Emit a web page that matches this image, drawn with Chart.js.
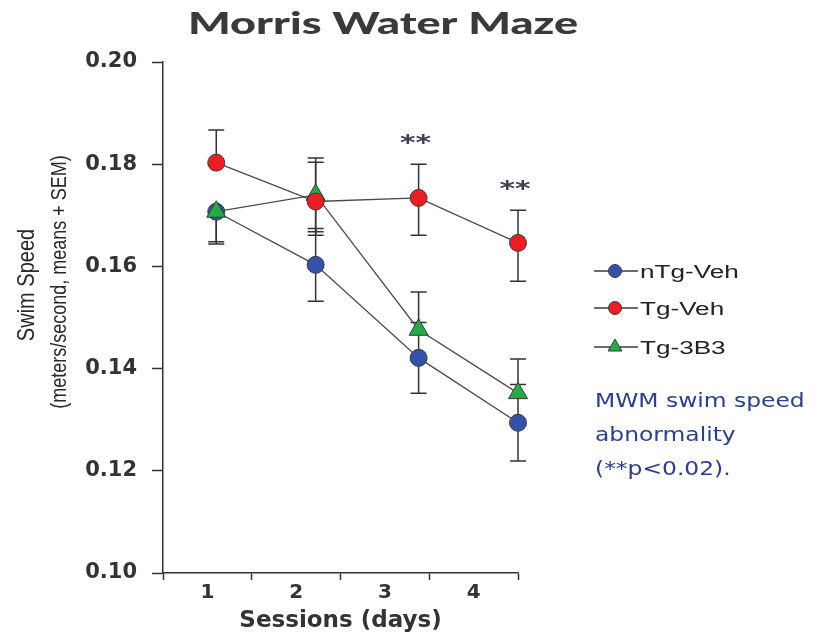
<!DOCTYPE html>
<html>
<head>
<meta charset="utf-8">
<script src="https://cdn.jsdelivr.net/npm/chart.js@4"></script>
<style>
    html, body { margin: 0; padding: 0; background: #fff; }
    canvas { display: block; }
</style>
</head>
<body>
<canvas id="grafica_mwm" width="823" height="635"></canvas>
<script>
// Swim speed per session for the three groups (means + SEM).

var sessionLabels = [1, 2, 3, 4];
var sessionX = [1.1, 2.22, 3.38, 4.5];
var yTicks = [0.10, 0.12, 0.14, 0.16, 0.18, 0.20];

var seriesNames = ['nTg-Veh', 'Tg-Veh', 'Tg-3B3'];
var nTgVeh = [0.1707, 0.1603, 0.1421, 0.1294];
var tgVeh = [0.1803, 0.1727, 0.1734, 0.1646];
var tg3B3 = [0.1707, 0.1740, 0.1476, 0.1352];
// SEM above / below each mean, as far as the picture shows them (0 = no bar)
var nTgVehUp = [0, 0.0071, 0.0069, 0.0075];
var nTgVehDown = [0.0063, 0.0071, 0.0069, 0.0075];
var tgVehUp = [0.0064, 0.0077, 0.0066, 0.0064];
var tgVehDown = [0, 0.0066, 0.0073, 0.0075];
var tg3B3Up = [0, 0.0072, 0.0074, 0.0067];
var tg3B3Down = [0.0059, 0.0072, 0, 0];
var significance = ['', '', '**', '**'];

var chartTitle = 'Morris Water Maze';
var yTitle = 'Swim Speed';
var ySubTitle = '(meters/second, means + SEM)';
var xTitle = 'Sessions (days)';
var noteLines = ['MWM swim speed', 'abnormality', '(**p<0.02).'];

var INK = '#333333';

// Builds the {x, y} points of a series.
function toPoints(values) {
    var pts = [];
    for (var i = 0; i < values.length; i++) {
        pts.push({ x: sessionX[i], y: values[i] });
    }
    return pts;
}

function getLineDataSet(label, values, up, down, color, style, radius, order) {
    return {
        label: label,
        data: toPoints(values),
        errUp: up,
        errDown: down,
        borderColor: '#4a4a4a',
        borderWidth: 1.3,
        backgroundColor: color,
        pointBackgroundColor: color,
        pointBorderColor: '#3a3a3a',
        pointBorderWidth: 1,
        pointStyle: style,
        pointRadius: radius,
        pointHoverRadius: radius,
        tension: 0,
        clip: false,
        order: order
    };
}

// Draws text stretched horizontally like the original picture.
// If width is given, the text is stretched to that width.
function drawText(ctx, text, x, y, font, color, align, sx, width) {
    ctx.save();
    ctx.font = font;
    ctx.fillStyle = color;
    ctx.textBaseline = 'alphabetic';
    var raw = ctx.measureText(text).width;
    if (width) sx = width / raw;
    var w = raw * sx;
    var left = x;
    if (align === 'center') left = x - w / 2;
    if (align === 'right') left = x - w;
    ctx.translate(left, y);
    ctx.scale(sx, 1);
    ctx.fillText(text, 0, 0);
    ctx.restore();
}

// Error bars, drawn behind the markers.
var errorBars = {
    id: 'errorBars',
    beforeDatasetsDraw: function (chart) {
        var ctx = chart.ctx;
        var xs = chart.scales.x, ys = chart.scales.y;
        ctx.save();
        ctx.strokeStyle = INK;
        ctx.lineWidth = 1.5;
        chart.data.datasets.forEach(function (ds) {
            ds.data.forEach(function (p, i) {
                var px = xs.getPixelForValue(p.x);
                var mid = ys.getPixelForValue(p.y);
                var ends = [];
                if (ds.errUp[i] > 0) ends.push(ys.getPixelForValue(p.y + ds.errUp[i]));
                if (ds.errDown[i] > 0) ends.push(ys.getPixelForValue(p.y - ds.errDown[i]));
                ends.forEach(function (e) {
                    ctx.beginPath();
                    ctx.moveTo(px, mid); ctx.lineTo(px, e);
                    ctx.moveTo(px - 8, e); ctx.lineTo(px + 8, e);
                    ctx.stroke();
                });
            });
        });
        ctx.restore();
    }
};

// Title, y title, asterisks, legend and note.
var extras = {
    id: 'extras',
    afterDraw: function (chart) {
        var ctx = chart.ctx;
        var xs = chart.scales.x, ys = chart.scales.y;

        drawText(ctx, chartTitle, 383, 34, '900 30px Lato', '#3a3b38', 'center', 1, 390);

        // y title, two lines rotated (glyphs a bit thicker, as in the picture)
        ctx.save();
        ctx.translate(34, 285);
        ctx.rotate(-Math.PI / 2);
        ctx.textAlign = 'center';
        ctx.fillStyle = '#2a2a2a';
        ctx.save();
        ctx.scale(1, 1.2);
        ctx.font = '20px "Liberation Sans"';
        ctx.fillText(yTitle, 0, 0);
        ctx.restore();
        ctx.save();
        ctx.translate(3, 32);
        ctx.scale(1, 1.2);
        ctx.font = '18px "Liberation Sans"';
        ctx.fillText(ySubTitle, 0, 0);
        ctx.restore();
        ctx.restore();

        // significance marks above Tg-Veh
        for (var i = 0; i < significance.length; i++) {
            if (!significance[i]) continue;
            var px = xs.getPixelForValue(sessionX[i]);
            var py = ys.getPixelForValue(tgVeh[i] + tgVehUp[i]) - 14;
            drawText(ctx, significance[i], px - 3, py, 'bold 22px "DejaVu Sans"', '#3c4250', 'center', 1.35);
        }

        // legend: line + marker + label
        var ly = [271, 308, 347];
        chart.data.datasets.forEach(function (ds, k) {
            ctx.save();
            ctx.strokeStyle = '#3a3a3a';
            ctx.lineWidth = 1.3;
            ctx.beginPath();
            ctx.moveTo(594, ly[k]); ctx.lineTo(638, ly[k]);
            ctx.stroke();
            ctx.fillStyle = ds.pointBackgroundColor;
            ctx.strokeStyle = '#3a3a3a';
            ctx.lineWidth = 1;
            Chart.helpers.drawPoint(ctx, {
                pointStyle: ds.pointStyle,
                radius: ds.pointStyle === 'triangle' ? 8 : 6.5,
                borderWidth: 1,
                rotation: 0
            }, 615, ly[k]);
            ctx.restore();
            drawText(ctx, ds.label, 640, ly[k] + 7, '18px "Liberation Sans"', '#222', 'left', 1.45);
        });

        // note
        var nb = [407, 441, 475];
        for (var n = 0; n < noteLines.length; n++) {
            drawText(ctx, noteLines[n], 595, nb[n], '19.5px "DejaVu Sans"', '#2d3f86', 'left', 1.2);
        }
    }
};

var context = document.getElementById('grafica_mwm').getContext('2d');

var datasets = [
    getLineDataSet(seriesNames[0], nTgVeh, nTgVehUp, nTgVehDown, 'rgb(52, 82, 170)', 'circle', 8.5, 2),
    getLineDataSet(seriesNames[1], tgVeh, tgVehUp, tgVehDown, 'rgb(236, 30, 36)', 'circle', 8.5, 0),
    getLineDataSet(seriesNames[2], tg3B3, tg3B3Up, tg3B3Down, 'rgb(38, 170, 72)', 'triangle', 11, 1)
];

var chart = new Chart(context, {
    type: 'line',
    data: { datasets: datasets },
    options: {
        responsive: false,
        animation: false,
        layout: { padding: { left: 0, right: 305, top: 62, bottom: 0 } },
        plugins: {
            legend: { display: false },
            tooltip: { enabled: false },
            title: { display: false }
        },
        scales: {
            x: {
                type: 'linear',
                min: 0.5,
                max: 4.5,
                afterFit: function (s) { s.height = 62; },
                afterBuildTicks: function (s) {
                    var t = [];
                    for (var i = 0; i < sessionLabels.length; i++) {
                        t.push({ value: sessionLabels[i] - 0.5 });
                        t.push({ value: sessionLabels[i] });
                    }
                    t.push({ value: sessionLabels[sessionLabels.length - 1] + 0.5 });
                    s.ticks = t;
                },
                ticks: {
                    autoSkip: false,
                    maxRotation: 0,
                    padding: 1,
                    color: INK,
                    font: { family: 'DejaVu Sans', size: 20, weight: 'bold' },
                    callback: function (v) {
                        return sessionLabels.indexOf(v) >= 0 ? String(v) : '';
                    }
                },
                grid: {
                    drawOnChartArea: false,
                    tickLength: 7,
                    tickWidth: 1.5,
                    tickColor: function (c) {
                        return sessionLabels.indexOf(c.tick.value) >= 0 ? 'rgba(0,0,0,0)' : INK;
                    }
                },
                border: { color: INK, width: 1.5 },
                title: {
                    display: true,
                    text: xTitle,
                    color: INK,
                    padding: { top: 0, bottom: 0 },
                    font: { family: 'DejaVu Sans', size: 23, weight: 'bold' }
                }
            },
            y: {
                min: 0.10,
                max: 0.20,
                afterFit: function (s) { s.width = 163; },
                afterBuildTicks: function (s) {
                    s.ticks = yTicks.map(function (v) { return { value: v }; });
                },
                ticks: {
                    padding: 15,
                    color: INK,
                    font: { family: 'DejaVu Sans', size: 21, weight: 'bold' },
                    callback: function (v) { return v.toFixed(2); }
                },
                grid: {
                    drawOnChartArea: false,
                    tickLength: 11,
                    tickWidth: 1.5,
                    tickColor: INK
                },
                border: { color: INK, width: 1.5 }
            }
        }
    },
    plugins: [errorBars, extras]
});
</script>
</body>
</html>
